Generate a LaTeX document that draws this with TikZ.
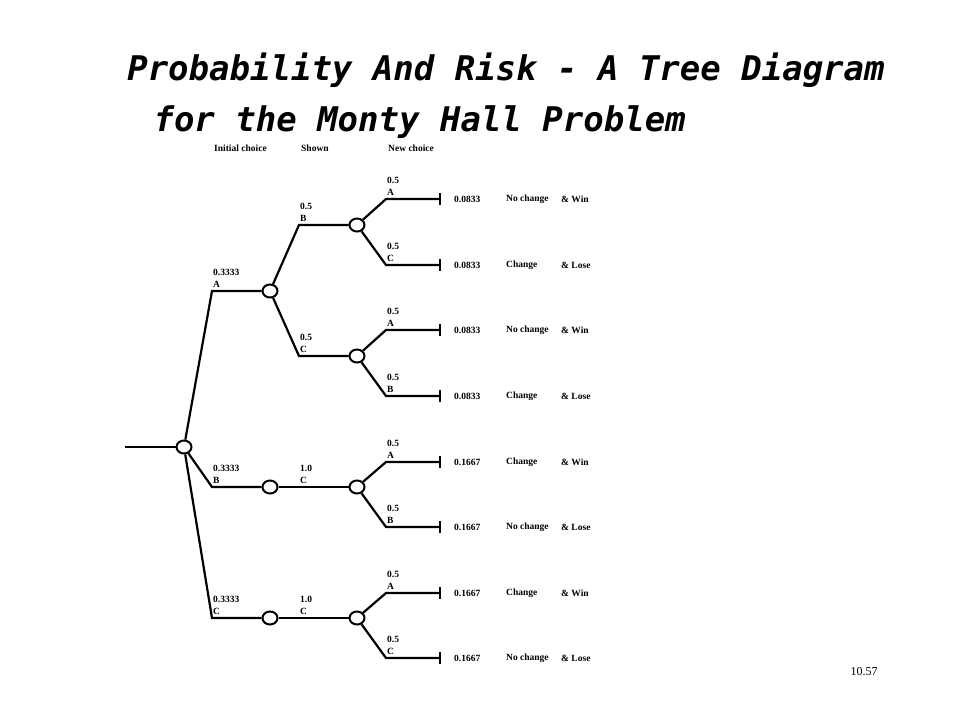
\documentclass[tikz,border=0pt]{standalone}
\usepackage{fontspec}
\setmainfont{Liberation Serif}
\newfontfamily\titlefont{DejaVu Sans Mono}
\usetikzlibrary{positioning, shapes.geometric}

\tikzset{
  chance/.style={draw,ellipse,line width=2pt,minimum width=15pt,minimum height=13pt,inner sep=0pt,fill=white},
  branch/.style={line width=2.2pt},
  prob/.style={font=\fontsize{9.5}{12}\selectfont\bfseries,anchor=south west,align=left,inner sep=1pt},
  tiny/.style={font=\fontsize{9.5}{12}\selectfont\bfseries,anchor=west,inner sep=0pt}
}

\begin{document}
\begin{tikzpicture}[x=1pt,y=-1pt]
  \useasboundingbox (0,0) rectangle (960,720);

  % title
  \node[font=\titlefont\bfseries\itshape\fontsize{34}{40}\selectfont] (title1) at (506,70) {Probability And Risk - A Tree Diagram};
  \node[font=\titlefont\bfseries\itshape\fontsize{34}{40}\selectfont,anchor=west] (title2) at (150,122) {for the Monty Hall Problem};
  \node[font=\fontsize{12}{14}\selectfont] (page) at (864,672) {10.57};

  % headers
  \node[tiny] (h1) at (214,148) {Initial choice};
  \node[tiny] (h2) at (301,148) {Shown};
  \node[tiny] (h3) at (388,148) {New choice};

  % elbow columns
  \coordinate (x1) at (212,0);
  \coordinate (x2) at (299,0);

  % nodes
  \coordinate (in) at (125,447);
  \node[chance] (r) at (184,447) {};
  \node[chance] (a) at (270,291) {};
  \node[chance] (b) at (270,487) {};
  \node[chance] (c) at (270,618) {};
  \node[chance] (ab) at (357,225) {};
  \node[chance] (ac) at (357,356) {};
  \node[chance] (bc) at (357,487) {};
  \node[chance] (cc) at (357,618) {};

  \draw[branch] (in) -- (r);

  % first level
  \foreach \n/\p/\l in {a/0.3333/A, b/0.3333/B, c/0.3333/C} {
    \draw[branch] (r) -- (x1 |- \n) coordinate (e\n) -- (\n);
    \node[prob] at ([yshift=2pt]e\n) {\p\\\l};
  }

  % second level
  \foreach \m/\n/\p/\l in {a/ab/0.5/B, a/ac/0.5/C, b/bc/1.0/C, c/cc/1.0/C} {
    \draw[branch] (\m) -- (x2 |- \n) coordinate (e\n) -- (\n);
    \node[prob] at ([yshift=2pt]e\n) {\p\\\l};
  }

  % third level and outcomes
  \foreach \n/\y/\l/\v/\o/\w [count=\i] in {
      ab/199/A/0.0833/No change/Win, ab/265/C/0.0833/Change/Lose,
      ac/330/A/0.0833/No change/Win, ac/396/B/0.0833/Change/Lose,
      bc/462/A/0.1667/Change/Win, bc/527/B/0.1667/No change/Lose,
      cc/593/A/0.1667/Change/Win, cc/658/C/0.1667/No change/Lose} {
    \coordinate (t\i) at (440,\y);
    \draw[branch] (\n) -- (386,\y) coordinate (f\i) -- (t\i);
    \draw[branch] ([yshift=6pt]t\i) -- ([yshift=-6pt]t\i);
    \node[prob] at ([yshift=2pt]f\i) {0.5\\\l};
    \node[tiny] (v\i) at (454,\y) {\v};
    \node[tiny] (o\i) at (506,\y) {\o};
    \node[tiny] (w\i) at (561,\y) {\& \w};
  }
\end{tikzpicture}
\end{document}
